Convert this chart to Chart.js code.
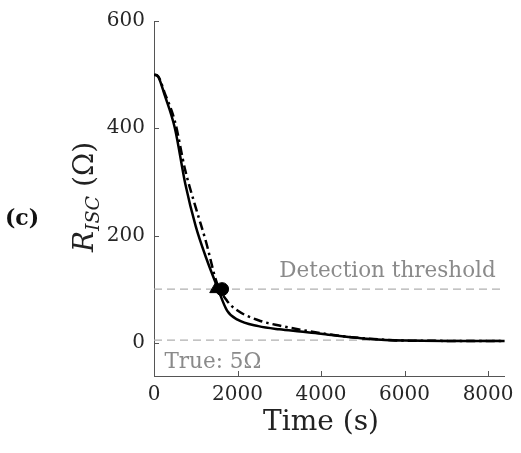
<!DOCTYPE html>
<html>
<head>
<meta charset="utf-8">
<script src="https://cdn.jsdelivr.net/npm/chart.js@4/dist/chart.umd.min.js"></script>
<style>
html, body { margin: 0; padding: 0; background: #fff; }
#wrap { width: 521px; height: 453px; }
</style>
</head>
<body>
<div id="wrap"><canvas id="chart" width="521" height="453"></canvas></div>
<script>
// time axis (s) and the two R_ISC estimates (ohm)
const timeS     = [0, 100, 250, 500, 750, 1000, 1250, 1500, 1750, 2000, 2500, 3000, 3500, 4000, 4500, 5000, 6000, 7000, 8400];
const rSolid    = [500, 496, 463, 400, 296, 217, 158, 107, 60, 43, 31, 25, 21, 17, 12, 8, 4, 3.5, 3.5];
const rDashDot  = [500, 497, 467, 413, 321, 252, 187, 113, 78, 60, 42, 32, 24.5, 18, 12.5, 8.5, 4, 3.5, 3.5];

// detection points (time, R) where each curve drops below the threshold
const detectSolid   = [1480, 100];
const detectDashDot = [1630, 100];

const threshold = 100;
const trueValue = 5;
const xRange = [0, 8400];
const yRange = [-62, 600];
const xTicks = [0, 2000, 4000, 6000, 8000];
const yTicks = [0, 200, 400, 600];

const serif = '"DejaVu Serif", "Liberation Serif", serif';
const axisColor = '#555555';
const textGrey = '#8a8a8a';
const lineGrey = '#b0b0b0';

const toPoints = (xs, ys) => xs.map((x, i) => ({ x: x, y: ys[i] }));

const annotate = {
    id: 'annotate',
    afterDraw(chart) {
        const ctx = chart.ctx;
        const sx = chart.scales.x;
        const sy = chart.scales.y;
        const area = chart.chartArea;
        ctx.save();

        // inward tick marks
        ctx.strokeStyle = axisColor;
        ctx.lineWidth = 1;
        ctx.beginPath();
        xTicks.forEach(v => {
            const px = Math.round(sx.getPixelForValue(v)) + 0.5;
            ctx.moveTo(px, area.bottom);
            ctx.lineTo(px, area.bottom - 5);
        });
        yTicks.forEach(v => {
            const py = Math.round(sy.getPixelForValue(v)) + 0.5;
            ctx.moveTo(area.left, py);
            ctx.lineTo(area.left + 5, py);
        });
        ctx.stroke();

        // grey labels on the reference lines
        ctx.fillStyle = textGrey;
        ctx.textBaseline = 'alphabetic';
        ctx.textAlign = 'left';
        ctx.font = '21.5px ' + serif;
        ctx.fillText('Detection threshold', sx.getPixelForValue(3000), sy.getPixelForValue(122));
        ctx.fillText('True: 5\u03A9', sx.getPixelForValue(250), sy.getPixelForValue(-48));

        // x title
        ctx.fillStyle = '#222';
        ctx.textAlign = 'center';
        ctx.font = '28px ' + serif;
        ctx.fillText('Time (s)', 321, 430);

        // y title with subscript, rotated
        ctx.translate(93, 197);
        ctx.rotate(-Math.PI / 2);
        const big = 'italic 28px ' + serif;
        const sub = 'italic 19px ' + serif;
        const reg = '28px ' + serif;
        ctx.font = big; const wR = ctx.measureText('R').width;
        ctx.font = sub; const wS = ctx.measureText('ISC').width;
        ctx.font = reg; const wO = ctx.measureText(' (\u03A9)').width;
        let cx = -(wR + wS + wO) / 2;
        ctx.textAlign = 'left';
        ctx.font = big; ctx.fillText('R', cx, 0); cx += wR;
        ctx.font = sub; ctx.fillText('ISC', cx, 6); cx += wS;
        ctx.font = reg; ctx.fillText(' (\u03A9)', cx, 0);
        ctx.restore();

        // panel letter
        ctx.save();
        ctx.fillStyle = '#111';
        ctx.font = 'bold 22px ' + serif;
        ctx.textAlign = 'center';
        ctx.textBaseline = 'middle';
        ctx.fillText('(c)', 22, 219);
        ctx.restore();
    }
};

const config = {
    type: 'line',
    data: {
        datasets: [
            {
                label: 'detect solid',
                data: [{ x: detectSolid[0], y: detectSolid[1] }],
                showLine: false,
                pointStyle: 'triangle',
                pointRadius: 7,
                backgroundColor: '#000',
                borderColor: '#000',
                order: 0
            },
            {
                label: 'detect dash-dot',
                data: [{ x: detectDashDot[0], y: detectDashDot[1] }],
                showLine: false,
                pointStyle: 'circle',
                pointRadius: 6.5,
                backgroundColor: '#000',
                borderColor: '#000',
                order: 1
            },
            {
                label: 'solid',
                data: toPoints(timeS, rSolid),
                borderColor: '#000',
                borderWidth: 2.5,
                pointRadius: 0,
                cubicInterpolationMode: 'monotone',
                order: 2
            },
            {
                label: 'dash-dot',
                data: toPoints(timeS, rDashDot),
                borderColor: '#000',
                borderWidth: 2.5,
                borderDash: [9, 4, 2.5, 4],
                pointRadius: 0,
                cubicInterpolationMode: 'monotone',
                order: 3
            },
            {
                label: 'threshold',
                data: toPoints(xRange, [threshold, threshold]),
                borderColor: lineGrey,
                borderWidth: 1.2,
                borderDash: [8, 5],
                pointRadius: 0,
                order: 4
            },
            {
                label: 'true',
                data: toPoints(xRange, [trueValue, trueValue]),
                borderColor: lineGrey,
                borderWidth: 1.2,
                borderDash: [8, 5],
                pointRadius: 0,
                order: 5
            }
        ]
    },
    options: {
        responsive: false,
        animation: false,
        layout: { padding: { top: 21, right: 10, left: 0, bottom: 0 } },
        plugins: { legend: { display: false }, tooltip: { enabled: false } },
        scales: {
            x: {
                type: 'linear',
                min: xRange[0],
                max: xRange[1],
                afterBuildTicks: s => { s.ticks = xTicks.map(v => ({ value: v })); },
                afterFit: s => { s.height = 77; },
                grid: { display: false, drawTicks: false },
                border: { display: true, color: axisColor, width: 1 },
                ticks: { font: { family: serif, size: 20 }, color: '#262626', padding: 7, maxRotation: 0, callback: v => String(v) }
            },
            y: {
                type: 'linear',
                min: yRange[0],
                max: yRange[1],
                afterBuildTicks: s => { s.ticks = yTicks.map(v => ({ value: v })); },
                afterFit: s => { s.width = 154; },
                grid: { display: false, drawTicks: false },
                border: { display: true, color: axisColor, width: 1 },
                ticks: { font: { family: serif, size: 20 }, color: '#262626', padding: 9, callback: v => String(v) }
            }
        }
    },
    plugins: [annotate]
};

new Chart(document.getElementById('chart'), config);
</script>
</body>
</html>
